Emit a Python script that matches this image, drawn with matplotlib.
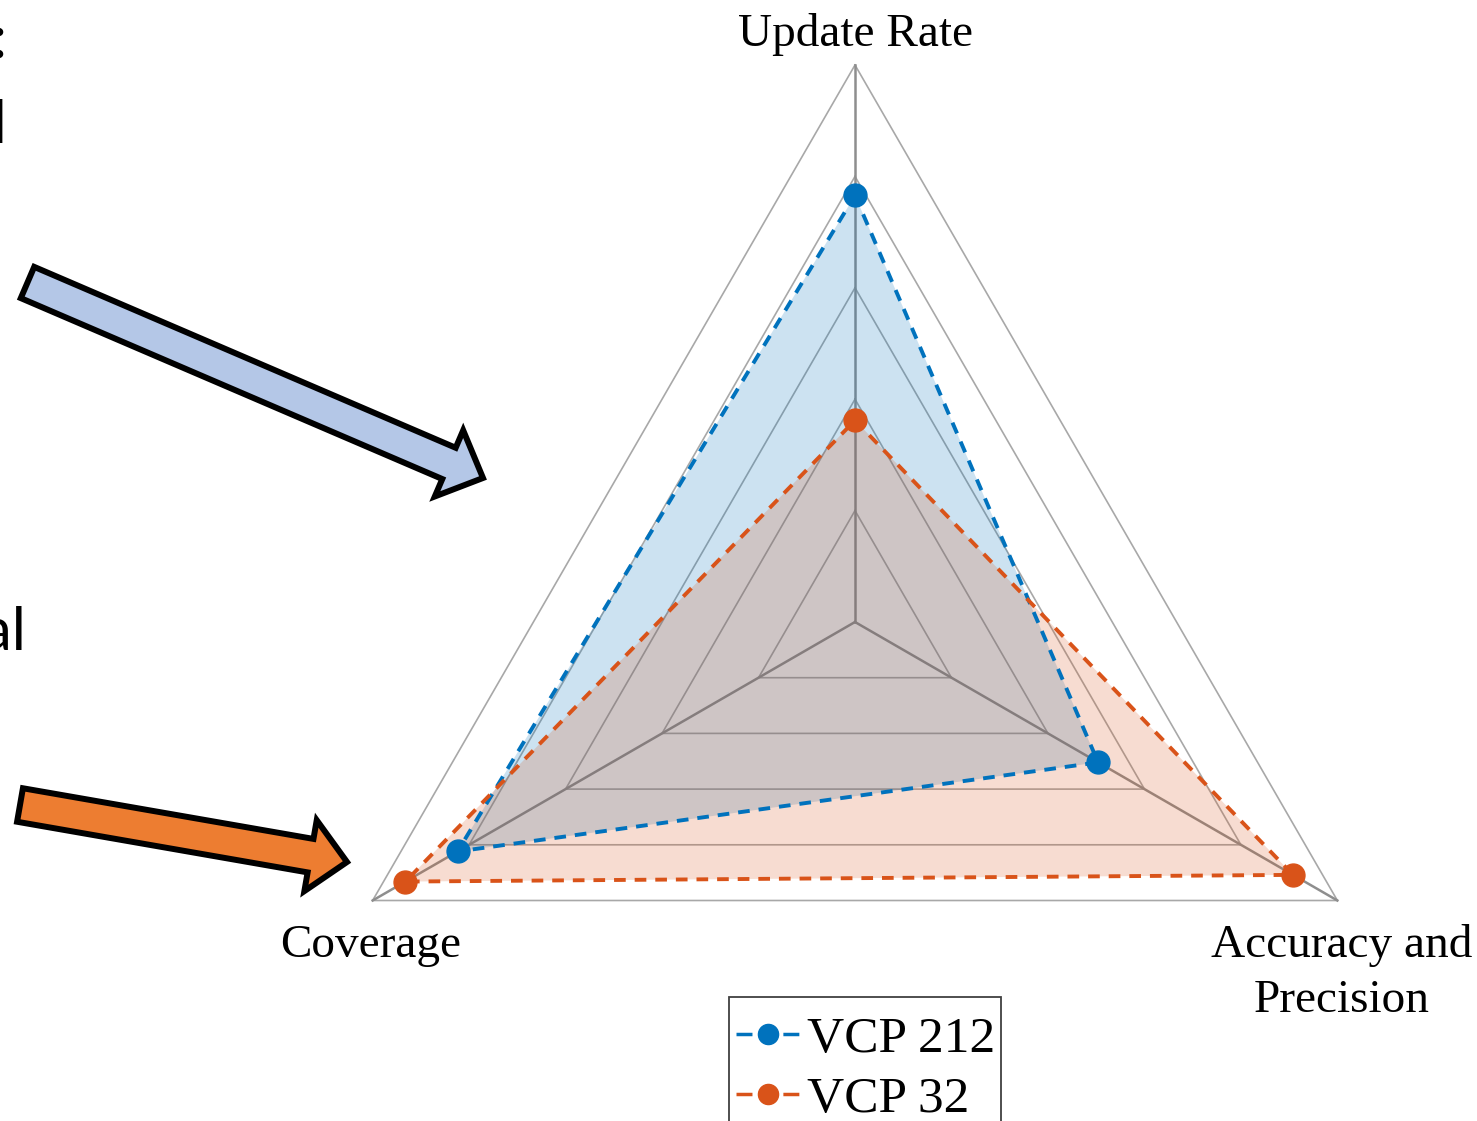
import numpy as np
import matplotlib
matplotlib.use('Agg')
import matplotlib.pyplot as plt
from matplotlib.patches import FancyArrow, Rectangle
from matplotlib.lines import Line2D

# ---- data ----
categories = ['Update Rate', 'Accuracy and\nPrecision', 'Coverage']
series_names = ['VCP 212', 'VCP 32']
vcp212 = [3.83, 2.52, 4.12]
vcp32 = [1.81, 4.54, 4.66]
levels = [1, 2, 3, 4, 5]
axis_angles_deg = [90, -30, 210]

# ---- styles ----
BLUE = '#0072BD'
ORANGE = '#D95319'
SERIF = 'Liberation Serif'

W, H = 1477, 1121
fig = plt.figure(figsize=(W / 100, H / 100), dpi=100)
ax = fig.add_axes([0, 0, 1, 1])
CX, CY, S = 855, 622, 111.4   # center in px, px per unit
ax.set_xlim(-CX / S, (W - CX) / S)
ax.set_ylim(-(H - CY) / S, CY / S)
ax.axis('off')


def px(x, y):
    return ((x - CX) / S, (CY - y) / S)


theta = np.deg2rad(axis_angles_deg)


def xy(vals):
    v = np.asarray(vals, float)
    return v * np.cos(theta), v * np.sin(theta)


# grid rings
for lv in levels:
    gx, gy = xy([lv] * 3)
    ax.plot(np.append(gx, gx[0]), np.append(gy, gy[0]),
            color='#a8a8a8', lw=1.2, zorder=1, solid_joinstyle='miter')
# spokes
rmax = max(levels)
for t in theta:
    ax.plot([0, rmax * np.cos(t)], [0, rmax * np.sin(t)],
            color='#8e8e8e', lw=1.8, zorder=1)

# fills
bx, by = xy(vcp212)
ox, oy = xy(vcp32)
ax.fill(bx, by, color=BLUE, alpha=0.2, lw=0, zorder=2)
ax.fill(ox, oy, color=ORANGE, alpha=0.2, lw=0, zorder=3)

# lines
dash = (3.0, 2.3)
ax.plot(np.append(bx, bx[0]), np.append(by, by[0]), color=BLUE, lw=2.8,
        linestyle=(0, dash), zorder=4)
ax.plot(bx, by, 'o', color=BLUE, ms=16.5, zorder=5)
ax.plot(np.append(ox, ox[0]), np.append(oy, oy[0]), color=ORANGE, lw=2.8,
        linestyle=(0, dash), zorder=4)
ax.plot(ox, oy, 'o', color=ORANGE, ms=16.5, zorder=5)

# axis labels
ax.text(*px(855, 46), categories[0], ha='center', va='baseline',
        fontsize=34, family=SERIF)
ax.text(*px(1342, 1012), categories[1], ha='center', va='baseline',
        multialignment='center', fontsize=34, family=SERIF, linespacing=1.38)
ax.text(*px(371, 957), categories[2], ha='center', va='baseline',
        fontsize=34, family=SERIF)

# legend (proxy handles) with a separate frame running past the bottom edge
handles = [Line2D([], [], color=c, lw=2.5, linestyle=(0, (4.6, 8.9)),
                  marker='o', ms=14.5) for c in (BLUE, ORANGE)]
leg = ax.legend(handles, series_names, loc='upper left',
                bbox_to_anchor=(736 / W, 1 - 1016 / H),
                bbox_transform=fig.transFigure,
                prop={'family': SERIF, 'size': 37}, frameon=False,
                borderaxespad=0, borderpad=0, handlelength=1.23,
                handletextpad=0.15, labelspacing=0.26)
x0, y0 = px(729, 1135)
x1, y1 = px(1001, 997)
ax.add_patch(Rectangle((x0, y0), x1 - x0, y1 - y0, fill=False,
                       ec='#404040', lw=1.3, zorder=7))

# slide arrows
def arrow(tail, tip, fc):
    xa, ya = px(*tail)
    xb, yb = px(*tip)
    a = FancyArrow(xa, ya, xb - xa, yb - ya, width=34 / S, head_width=72 / S,
                   head_length=37 / S, length_includes_head=True,
                   fc=fc, ec='black', lw=4.3, joinstyle='miter', zorder=6)
    ax.add_patch(a)


arrow((27.5, 282.5), (483, 478), '#B4C7E7')
arrow((20, 805), (347, 862), '#ED7D31')

# cropped slide text fragments at the left edge (cut off in the reference too)
SANS = 'Lato'
ax.text(*px(6, 58), ':', ha='right', va='baseline', fontsize=43, family=SANS)
ax.text(*px(6, 143), 'd', ha='right', va='baseline', fontsize=43, family=SANS)
ax.text(*px(26, 650), 'al', ha='right', va='baseline', fontsize=43, family=SANS)

fig.savefig('out.png', dpi=100)
